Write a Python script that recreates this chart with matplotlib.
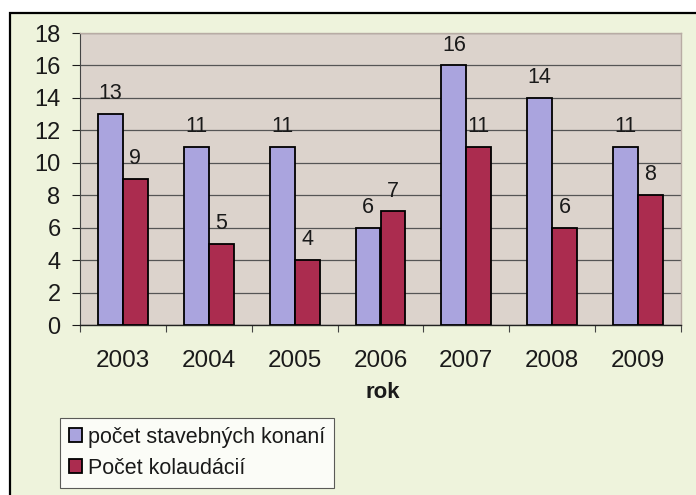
import numpy as np
import matplotlib.pyplot as plt
from matplotlib.patches import Rectangle, Patch

# data
roky = ['2003', '2004', '2005', '2006', '2007', '2008', '2009']
stavebne = [13, 11, 11, 6, 16, 14, 11]
kolaudacie = [9, 5, 4, 7, 11, 6, 8]
nazvy = ['počet stavebných konaní', 'Počet kolaudácií']

plt.rcParams['font.family'] = ['Liberation Sans', 'DejaVu Sans']

fig = plt.figure(figsize=(6.96, 4.95), dpi=100)
fig.patch.set_facecolor('white')

# outer chart area with border
fig.patches.append(Rectangle((10/696, -0.05), 1.0, 1 - 13/495 + 0.05,
                             transform=fig.transFigure, facecolor='#eef3dc',
                             edgecolor='black', linewidth=1.6, zorder=-10))

ax = fig.add_axes([80/696, 1 - 325/495, 601/696, 292/495])
ax.set_facecolor('#dcd3cc')

x = np.arange(len(roky))
w = 0.29
c1 = '#aaa4de'
c2 = '#ab2c4f'
b1 = ax.bar(x - w/2, stavebne, w, color=c1, edgecolor='black', linewidth=1.3, zorder=3)
b2 = ax.bar(x + w/2, kolaudacie, w, color=c2, edgecolor='black', linewidth=1.3, zorder=3)

for rect, v in zip(b1, stavebne):
    ax.text(rect.get_x() + rect.get_width()/2, v + 0.6, str(v), ha='center', va='bottom',
            fontsize=15.5, color='#1a1a1a', zorder=4)
for rect, v in zip(b2, kolaudacie):
    ax.text(rect.get_x() + rect.get_width()/2, v + 0.6, str(v), ha='center', va='bottom',
            fontsize=15.5, color='#1a1a1a', zorder=4)

ax.set_xlim(-0.5, len(roky) - 0.5)
ax.set_ylim(0, 18)
ax.set_yticks(range(0, 19, 2))
ax.yaxis.grid(True, color='#555555', linewidth=0.9, zorder=1)
ax.set_axisbelow(True)

ax.set_xticks(x)
ax.set_xticklabels(roky)
ax.set_xticks(np.arange(-0.5, len(roky), 1), minor=True)
ax.tick_params(axis='x', which='major', length=0, pad=18, labelsize=17.5, colors='#1a1a1a')
ax.tick_params(axis='x', which='minor', length=5, width=0.8, color='#444444')
ax.tick_params(axis='y', length=6, width=0.8, pad=8, labelsize=17, colors='#1a1a1a')

for s in ['top', 'right']:
    ax.spines[s].set_color('#b8aca4')
    ax.spines[s].set_linewidth(1.0)
ax.spines['left'].set_color('#444444')
ax.spines['bottom'].set_color('#222222')
ax.spines['bottom'].set_linewidth(1.0)

fig.text(383/696, 1 - 392/495, 'rok', ha='center', va='center', fontsize=16,
         fontweight='bold', color='#1a1a1a')

handles = [Patch(facecolor=c1, edgecolor='black', linewidth=1.3),
           Patch(facecolor=c2, edgecolor='black', linewidth=1.3)]
leg = fig.legend(handles, nazvy, loc='upper left', bbox_to_anchor=(60/696, 1 - 418/495),
                 fontsize=15.5, frameon=True, fancybox=False, handlelength=0.62,
                 handleheight=0.62, handletextpad=0.25, labelspacing=0.45,
                 borderpad=0.42, borderaxespad=0)
leg.get_frame().set_edgecolor('#333333')
leg.get_frame().set_linewidth(0.8)
leg.get_frame().set_facecolor('white')
for t in leg.get_texts():
    t.set_color('#1a1a1a')

fig.savefig('out.png', dpi=100)
